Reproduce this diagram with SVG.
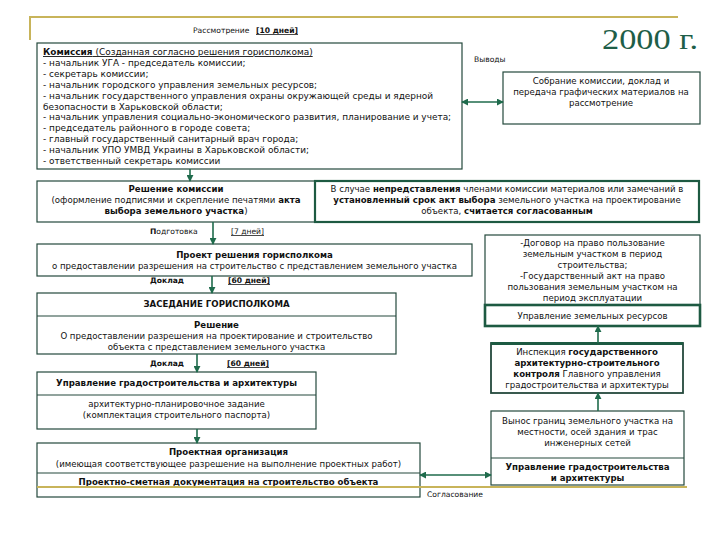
<svg xmlns="http://www.w3.org/2000/svg" width="720" height="540" viewBox="0 0 720 540">
<style>
text{font-family:"DejaVu Sans",Verdana,sans-serif;font-size:8.6px;fill:#111}
.c{text-anchor:middle}
.b{font-weight:bold}
.u{text-decoration:underline}
.s{font-size:7.6px}
.m{font-size:8.95px}
.box{fill:#fff;stroke:#24493c;stroke-width:1.2}
.thick{fill:#fff;stroke:#1d5a42;stroke-width:2.2}
.div{stroke:#24493c;stroke-width:1.2}
.gold{stroke:#c8b45a;stroke-width:2;fill:none}
.con{stroke:#1f6b4c;stroke-width:1.6;fill:none}
</style>
<defs>
<marker id="ah" viewBox="0 0 8 8" refX="7" refY="4" markerWidth="7" markerHeight="7" orient="auto-start-reverse" markerUnits="userSpaceOnUse">
<path d="M0,0 L8,4 L0,8 Z" fill="#1f6b4c"/>
</marker>
</defs>
<rect width="720" height="540" fill="#fff"/>
<g id="frame">
<path class="gold" d="M30,40 V17 H678"/>
</g>
<g id="year">
<text x="602" y="49" textLength="96" lengthAdjust="spacingAndGlyphs" style="font-family:'Liberation Serif','Times New Roman',serif;font-size:29px;fill:#1e5e48">2000 г.</text>
</g>
<g id="labels">
<text x="193" y="33" class="s">Рассмотрение <tspan class="b u" x="256">[10 дней]</tspan></text>
<text x="474" y="62" class="s">Выводы</text>
<text x="150" y="234" class="s"><tspan class="b">П</tspan>одготовка</text>
<text x="231" y="234" class="s u">[7 дней]</text>
<text x="150" y="283" class="s b">Доклад</text>
<text x="228" y="283" class="s b u">[60 дней]</text>
<text x="150" y="366" class="s b">Доклад</text>
<text x="227" y="366" class="s b u">[60 дней]</text>
<text x="427" y="497" class="s">Согласование</text>
</g>
<g id="commission">
<rect class="box" x="37" y="43" width="425" height="126"/>
<text class="m" x="43" y="55"><tspan class="b u">Комиссия</tspan><tspan class="u"> (Созданная согласно решения горисполкома)</tspan></text>
<text class="m" x="43" y="65.9">- начальник УГА - председатель комиссии;</text>
<text class="m" x="43" y="76.8">- секретарь комиссии;</text>
<text class="m" x="43" y="87.7">- начальник городского управления земельных ресурсов;</text>
<text class="m" x="43" y="98.6">- начальник государственного управления охраны окружающей среды и ядерной</text>
<text class="m" x="43" y="109.5">безопасности в Харьковской области;</text>
<text class="m" x="43" y="120.4">- начальник управления социально-экономического развития, планирование и учета;</text>
<text class="m" x="43" y="131.3">- председатель районного в городе совета;</text>
<text class="m" x="43" y="142.2">- главный государственный санитарный врач города;</text>
<text class="m" x="43" y="153.1">- начальник УПО УМВД Украины в Харьковской области;</text>
<text class="m" x="43" y="164">- ответственный секретарь комиссии</text>
</g>
<g id="sobranie">
<rect class="box" x="503" y="72" width="197" height="52"/>
<text class="c" x="601" y="84">Собрание комиссии, доклад и</text>
<text class="c" x="601" y="95">передача графических материалов на</text>
<text class="c" x="601" y="106">рассмотрение</text>
</g>
<g id="reshenie-komissii">
<rect class="box" x="37" y="181" width="278" height="41"/>
<text class="c b" x="176" y="192">Решение комиссии</text>
<text class="c" x="176" y="203">(оформление подписями и скрепление печатями <tspan class="b">акта</tspan></text>
<text class="c" x="176" y="214"><tspan class="b">выбора земельного участка</tspan>)</text>
</g>
<g id="v-sluchae">
<rect class="thick" x="315" y="181" width="384" height="41"/>
<text class="c" x="507" y="192">В случае <tspan class="b">непредставления</tspan> членами комиссии материалов или замечаний в</text>
<text class="c" x="507" y="203"><tspan class="b">установленный срок акт выбора</tspan> земельного участка на проектирование</text>
<text class="c" x="507" y="214">объекта, <tspan class="b">считается согласованным</tspan></text>
</g>
<g id="proekt-resheniya">
<rect class="box" x="37" y="244" width="435" height="32"/>
<text class="c b" x="254.5" y="258">Проект решения горисполкома</text>
<text class="c" x="254.5" y="269">о предоставлении разрешения на строительство с представлением земельного участка</text>
</g>
<g id="zasedanie">
<rect class="box" x="37" y="293" width="359" height="61"/>
<line class="div" x1="37" y1="316" x2="396" y2="316"/>
<text class="c b" x="216.5" y="307">ЗАСЕДАНИЕ ГОРИСПОЛКОМА</text>
<text class="c b" x="216.5" y="328">Решение</text>
<text class="c" x="216.5" y="339">О предоставлении разрешения на проектирование и строительство</text>
<text class="c" x="216.5" y="350">объекта с представлением земельного участка</text>
</g>
<g id="upravlenie-grad-1">
<rect class="box" x="37" y="372" width="279" height="57"/>
<line class="div" x1="37" y1="395" x2="316" y2="395"/>
<text class="c b" x="176.5" y="386">Управление градостроительства и архитектуры</text>
<text class="c" x="176.5" y="407">архитектурно-планировочное задание</text>
<text class="c" x="176.5" y="418">(комплектация строительного паспорта)</text>
</g>
<g id="proektnaya-org">
<rect class="box" x="37" y="443" width="383" height="54"/>
<line class="div" x1="37" y1="473" x2="420" y2="473"/>
<text class="c b" x="228.5" y="455">Проектная организация</text>
<text class="c" x="228.5" y="467">(имеющая соответствующее разрешение на выполнение проектных работ)</text>
<text class="c b u" x="228.5" y="485">Проектно-сметная документация на строительство объекта</text>
</g>
<g id="dogovor">
<rect class="box" x="485" y="235" width="215" height="70"/>
<text class="c" x="592.5" y="246">-Договор на право пользование</text>
<text class="c" x="592.5" y="257">земельным участком в период</text>
<text class="c" x="592.5" y="268">строительства;</text>
<text class="c" x="592.5" y="279">-Государственный акт на право</text>
<text class="c" x="592.5" y="290">пользования земельным участком на</text>
<text class="c" x="592.5" y="301">период эксплуатации</text>
</g>
<g id="upravlenie-zem">
<rect class="thick" x="485" y="305" width="215" height="21" style="stroke-width:2.6"/>
<text class="c" x="592.5" y="318.5">Управление земельных ресурсов</text>
</g>
<g id="inspekciya">
<rect class="box" x="491" y="343" width="192" height="50" style="stroke-width:1.8"/>
<line x1="491" y1="343.5" x2="683" y2="343.5" stroke="#1d5a42" stroke-width="3"/>
<text class="c" x="587" y="355">Инспекция <tspan class="b">государственного</tspan></text>
<text class="c b" x="587" y="366">архитектурно-строительного</text>
<text class="c" x="587" y="377"><tspan class="b">контроля</tspan> Главного управления</text>
<text class="c" x="587" y="388">градостроительства и архитектуры</text>
</g>
<g id="vynos">
<rect class="box" x="491" y="411" width="193" height="74"/>
<line class="div" x1="491" y1="458" x2="684" y2="458"/>
<text class="c" x="587.5" y="424">Вынос границ земельного участка на</text>
<text class="c" x="587.5" y="435">местности, осей здания и трас</text>
<text class="c" x="587.5" y="446">инженерных сетей</text>
<text class="c b" x="587.5" y="470">Управление градостроительства</text>
<text class="c b" x="587.5" y="481">и архитектуры</text>
</g>
<g id="connectors">
<line class="con" x1="190" y1="169" x2="190" y2="181" marker-end="url(#ah)"/>
<line class="con" x1="462" y1="102" x2="503" y2="102" marker-start="url(#ah)" marker-end="url(#ah)"/>
<line class="con" x1="213" y1="222" x2="213" y2="244" marker-end="url(#ah)"/>
<line class="con" x1="212" y1="276" x2="212" y2="293" marker-end="url(#ah)"/>
<line class="con" x1="197" y1="354" x2="197" y2="372" marker-end="url(#ah)"/>
<line class="con" x1="197" y1="429" x2="197" y2="443" marker-end="url(#ah)"/>
<line class="con" x1="420" y1="475" x2="491" y2="475" marker-start="url(#ah)" marker-end="url(#ah)"/>
<line class="con" x1="598" y1="411" x2="598" y2="393" marker-end="url(#ah)"/>
<line class="con" x1="598" y1="343" x2="598" y2="326" marker-end="url(#ah)"/>
</g>
<g id="frame-bottom">
<line class="gold" x1="37" y1="487" x2="687" y2="487"/>
</g>
</svg>
